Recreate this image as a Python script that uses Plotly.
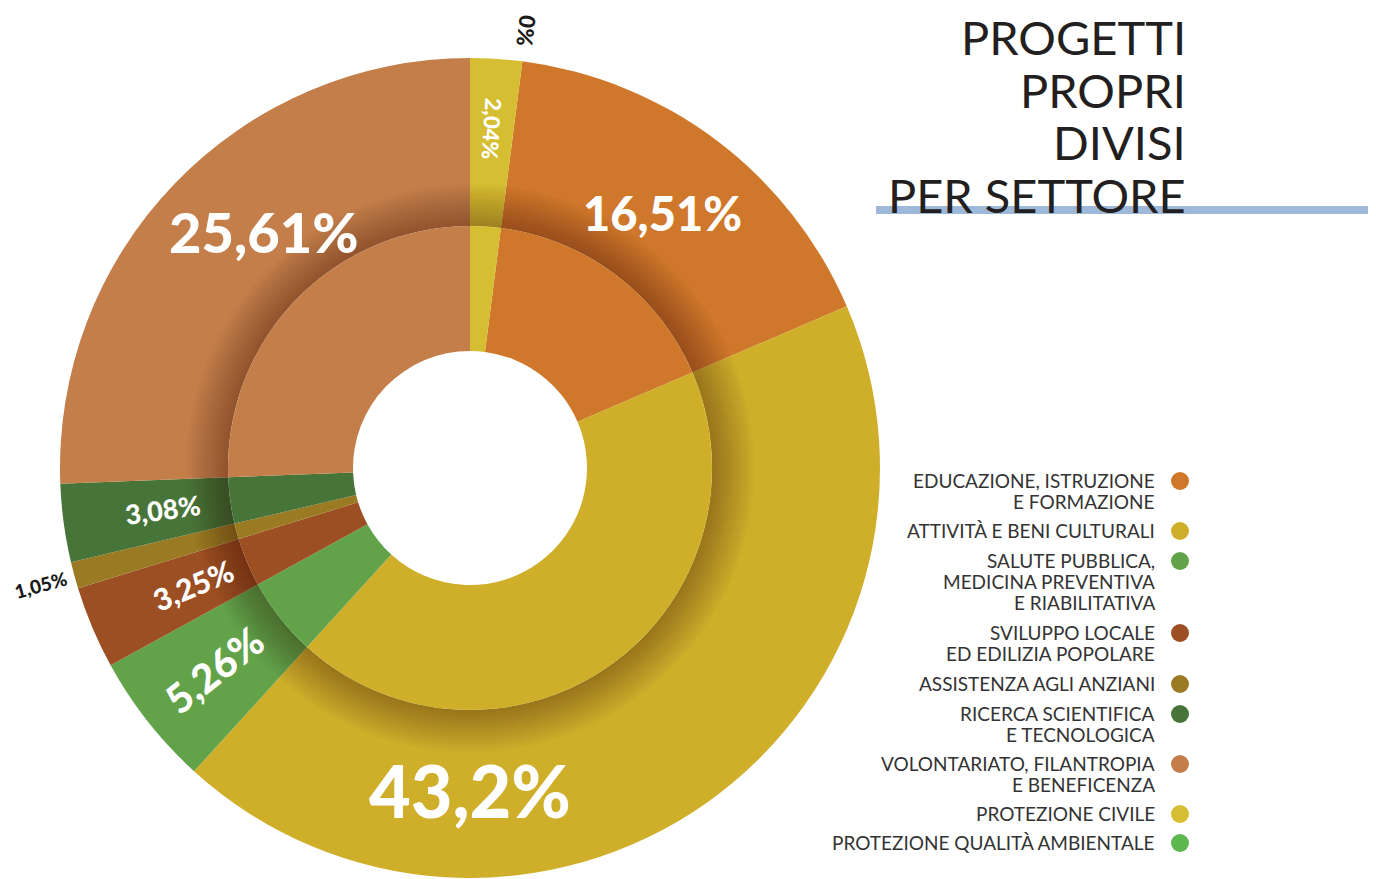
import math
import plotly.graph_objects as go

# dati: settori in ordine di legenda
settori = ["Educazione, istruzione e formazione", "Attività e beni culturali",
           "Salute pubblica, medicina preventiva e riabilitativa",
           "Sviluppo locale ed edilizia popolare", "Assistenza agli anziani",
           "Ricerca scientifica e tecnologica", "Volontariato, filantropia e beneficenza",
           "Protezione civile", "Protezione qualità ambientale"]
valori = [16.51, 43.2, 5.26, 3.25, 1.05, 3.08, 25.61, 2.04, 0]
etichette = ["16,51%", "43,2%", "5,26%", "3,25%", "1,05%", "3,08%", "25,61%", "2,04%", "0%"]
legenda = [["EDUCAZIONE, ISTRUZIONE", "E FORMAZIONE"],
           ["ATTIVITÀ E BENI CULTURALI"],
           ["SALUTE PUBBLICA,", "MEDICINA PREVENTIVA", "E RIABILITATIVA"],
           ["SVILUPPO LOCALE", "ED EDILIZIA POPOLARE"],
           ["ASSISTENZA AGLI ANZIANI"],
           ["RICERCA SCIENTIFICA", "E TECNOLOGICA"],
           ["VOLONTARIATO, FILANTROPIA", "E BENEFICENZA"],
           ["PROTEZIONE CIVILE"],
           ["PROTEZIONE QUALITÀ AMBIENTALE"]]
titolo = ["PROGETTI", "PROPRI", "DIVISI", "PER SETTORE"]

colori = ["#CF772A", "#CFAE2A", "#62A34A", "#9C4F22", "#9A7A22",
          "#477539", "#C47E4A", "#D6BE32", "#5DB850"]

# stile delle etichette (raggio, spostamento angolo, font, colore, radiale)
lab_r = [319, 322, 326, 301, 444, 310, 314, 340, 441]
lab_dang = [0, None, 0, 0, 0, 0, 5, 0, 0]
lab_size = [47, 72, 40, 30, 19, 27, 56, 22, 22]
lab_col = ["white"] * 4 + ["#1a1a1a"] + ["white"] * 3 + ["#1a1a1a"]
lab_radiale = [False, False, True, True, True, True, False, True, True]

W, H = 1376, 879
OFF = 8  # margine del body della pagina
cx, cy = 470, 468
R_out, R_mid, R_hole = 410, 242, 117


def X(x):
    return (x - OFF) / W


def Y(y):
    return 1 - (y - OFF) / H


def dom(r):
    return dict(x=[X(cx - r), X(cx + r)], y=[Y(cy + r), Y(cy - r)])


tot = sum(valori)
start = (valori[7] + valori[8]) / tot * 360  # protezione civile prima, a ore 12

fig = go.Figure()
# anello esterno
fig.add_trace(go.Pie(values=valori, labels=settori, marker=dict(colors=colori, line=dict(width=0)),
                     sort=False, direction="clockwise", rotation=start, hole=R_mid / R_out,
                     textinfo="none", hoverinfo="label+percent", domain=dom(R_out), showlegend=False))
# ombra attorno all'anello interno
for k in range(1, 15):
    r = R_mid + k * 3
    fig.add_trace(go.Pie(values=[1], labels=["ombra"], marker=dict(colors=["rgba(40,20,0,0.024)"], line=dict(width=0)),
                         hole=R_mid / r, textinfo="none", hoverinfo="skip", sort=False,
                         domain=dom(r), showlegend=False))
# anello interno
fig.add_trace(go.Pie(values=valori, labels=settori, marker=dict(colors=colori, line=dict(width=0)),
                     sort=False, direction="clockwise", rotation=start, hole=R_hole / R_mid,
                     textinfo="none", hoverinfo="label+percent", domain=dom(R_mid), showlegend=False))

# etichette percentuali
acc = start
for i, v in enumerate(valori):
    mid = acc + v / tot * 360 / 2
    acc += v / tot * 360
    ang = 180 if lab_dang[i] is None else mid + lab_dang[i]
    a = math.radians(ang)
    x = cx + lab_r[i] * math.sin(a)
    y = cy - lab_r[i] * math.cos(a)
    if lab_radiale[i]:
        rot = ang - 90 if ang < 180 else ang - 270
    else:
        rot = 0
    fig.add_annotation(x=X(x), y=Y(y), xref="paper", yref="paper", text=etichette[i],
                       showarrow=False, textangle=rot, xanchor="center", yanchor="middle",
                       font=dict(family="Lato", size=lab_size[i], color=lab_col[i], weight=900))

# titolo
for j, t in enumerate(titolo):
    fig.add_annotation(x=X(1188), y=Y(37 + j * 52.5), xref="paper", yref="paper", text=t,
                       showarrow=False, xanchor="right", yanchor="middle",
                       font=dict(family="Lato", size=47, color="#231F20"))
fig.add_shape(type="rect", xref="paper", yref="paper", x0=X(876), x1=1, y0=Y(214), y1=Y(206),
              fillcolor="#9DB8D9", line=dict(width=0), layer="below")

# legenda
ly = [480, 530, 560, 632, 683, 713, 763, 813, 842]
for i, righe in enumerate(legenda):
    for j, riga in enumerate(righe):
        fig.add_annotation(x=X(1157), y=Y(ly[i] + j * 21), xref="paper", yref="paper", text=riga,
                           showarrow=False, xanchor="right", yanchor="middle",
                           font=dict(family="Lato", size=19, color="#333333"))
    fig.add_shape(type="circle", xref="paper", yref="paper",
                  x0=X(1171), x1=X(1189), y0=Y(ly[i] + 10), y1=Y(ly[i] - 8),
                  fillcolor=colori[i], line=dict(width=0))

fig.update_layout(width=W, height=H, margin=dict(l=0, r=0, t=0, b=0),
                  paper_bgcolor="white", plot_bgcolor="white")
fig.write_html("out.html")
